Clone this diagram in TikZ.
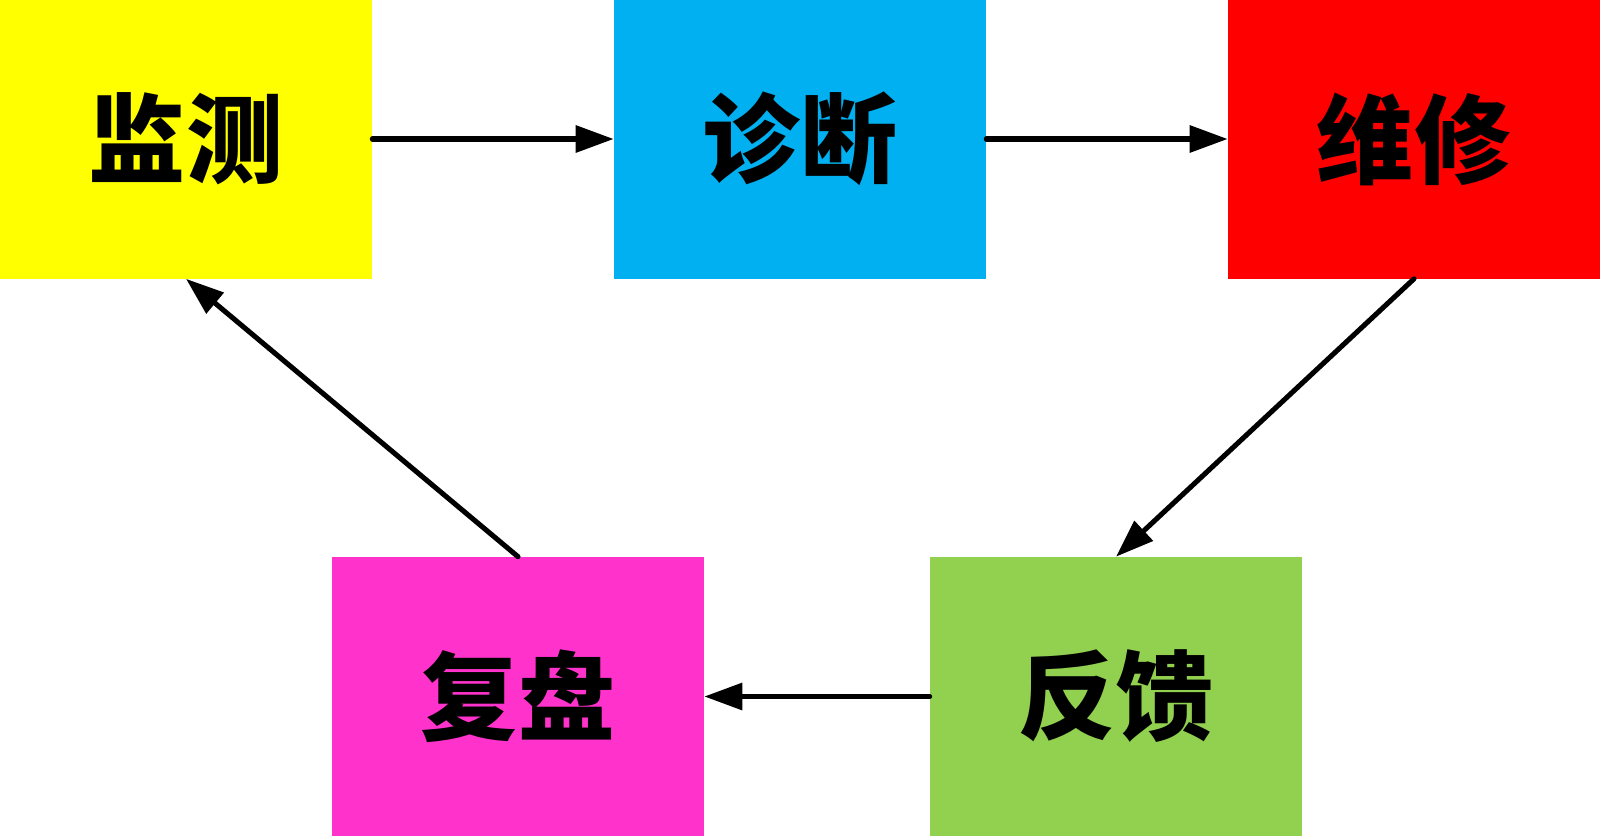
\documentclass[tikz,border=0pt]{standalone}
\usepackage{fontspec}
\newfontfamily\cjk{Noto Sans CJK SC}[BoldFont={Noto Sans CJK SC Black}]
\usetikzlibrary{arrows.meta}
\definecolor{cyellow}{HTML}{FFFF00}
\definecolor{cblue}{HTML}{00B0F0}
\definecolor{cred}{HTML}{FF0000}
\definecolor{cgreen}{HTML}{92D050}
\definecolor{cpink}{HTML}{FF33CC}
\tikzset{
  box/.style={rectangle, draw=none, inner sep=0pt, minimum width=9.3cm, minimum height=6.975cm,
    font=\cjk\bfseries\fontsize{69}{69}\selectfont, text=black},
  arr/.style={line width=3.6pt, line cap=round, -{Triangle[length=0.95cm, width=0.66cm]}}
}
\begin{document}
\begin{tikzpicture}[x=0.025cm, y=-0.025cm]
\useasboundingbox (0,0) rectangle (1600,836);
\node[box, fill=cyellow] (A) at (186,139) {监测};
\node[box, fill=cblue] (B) at (800,139) {诊断};
\node[box, fill=cred] (C) at (1414,139) {维修};
\node[box, fill=cgreen] (D) at (1116,696.5) {反馈};
\node[box, fill=cpink] (E) at (518,696.5) {复盘};
\draw[arr] (A.east) -- (B.west);
\draw[arr] (B.east) -- (C.west);
\draw[arr] (C.south) -- (D.north);
\draw[arr] (D.west) -- (E.east);
\draw[arr] (E.north) -- (A.south);
\end{tikzpicture}
\end{document}
